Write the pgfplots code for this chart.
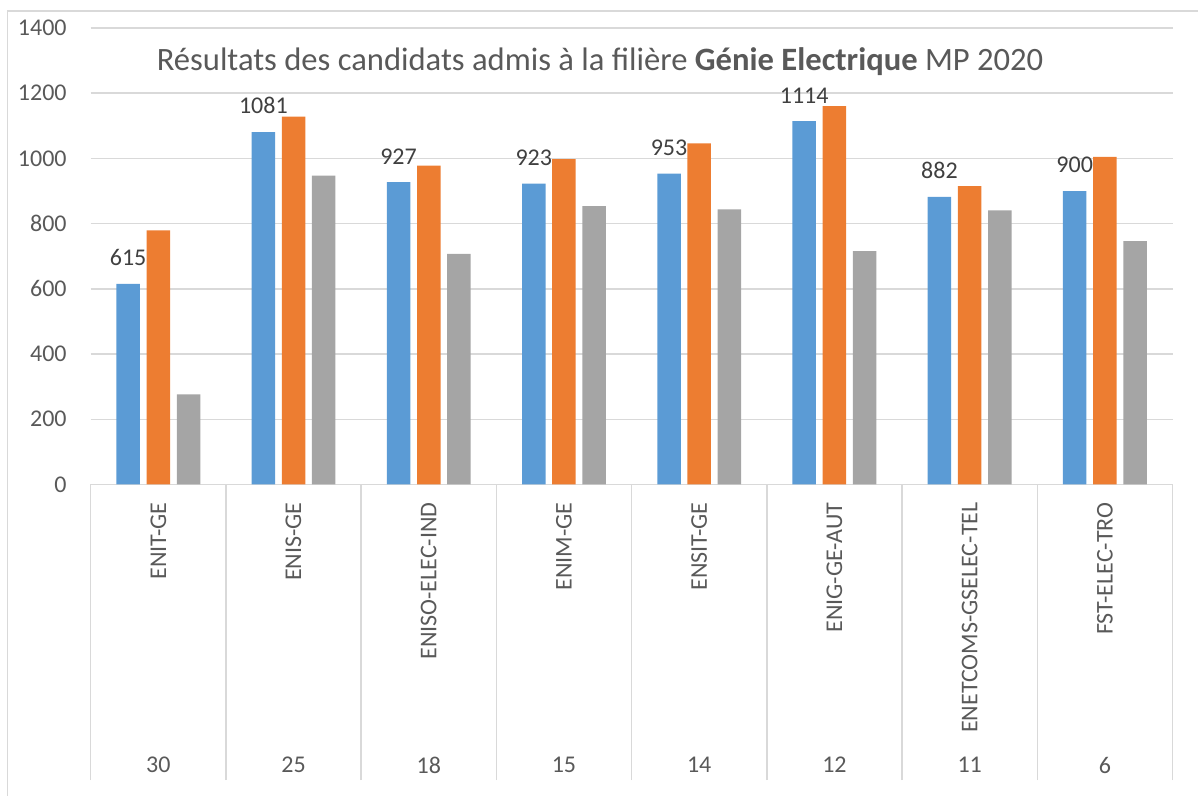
\documentclass[border=0pt]{standalone}
\usepackage{pgfplots}
\pgfplotsset{compat=1.18}
\usepackage{fontspec}
\setmainfont{Carlito}
\definecolor{cblue}{HTML}{5B9BD5}
\definecolor{corange}{HTML}{ED7D31}
\definecolor{cgray}{HTML}{A5A5A5}
\definecolor{txt}{HTML}{595959}
\definecolor{lbl}{HTML}{404040}
\definecolor{gridgray}{HTML}{D9D9D9}
\begin{document}
\begin{tikzpicture}
\useasboundingbox (0,0) rectangle (599pt,398pt);
\draw[gridgray, line width=0.75pt] (3.85pt,0) -- (3.85pt,392.5pt) -- (599pt,392.5pt);
\node[anchor=base, text=txt, font=\fontsize{16.3}{19}\selectfont] at (300pt,362.5pt)
  {Résultats des candidats admis à la filière \textbf{Génie Electrique} MP 2020};
\begin{axis}[
  at={(45.35pt,155.75pt)}, anchor=south west,
  scale only axis, width=540.9pt, height=228.25pt,
  xmin=-0.5, xmax=7.5, ymin=0, ymax=1400,
  ytick={0,200,...,1400},
  ymajorgrids, grid style={gridgray, line width=0.75pt},
  axis line style={draw=none},
  major tick length=0pt,
  xtick pos=left, ytick pos=left,
  /pgf/number format/assume math mode=true,
  /pgf/number format/1000 sep={},
  yticklabel style={text=txt, font=\fontsize{12}{14}\selectfont, inner sep=0pt, anchor=east, xshift=-11.85pt},
  xtick={0,...,7},
  xticklabels={ENIT-GE,ENIS-GE,ENISO-ELEC-IND,ENIM-GE,ENSIT-GE,ENIG-GE-AUT,ENETCOMS-GSELEC-TEL,FST-ELEC-TRO},
  xticklabel style={text=txt, font=\fontsize{12}{14}\selectfont, rotate=90, anchor=east, inner xsep=8.75pt, inner ysep=0pt},
  extra x ticks={-0.5,0.5,...,7.5},
  extra x tick labels={},
  extra x tick style={major tick length=147.75pt, tick align=outside, tick style={draw=gridgray, line width=0.75pt}, grid=none},
  ybar=3.35pt, bar width=11.75pt,
  clip=false,
]
\addplot[fill=cblue, draw=none, nodes near coords, nodes near coords style={text=lbl, font=\fontsize{12}{14}\selectfont, anchor=south, inner sep=0pt, yshift=8.8pt, /pgf/number format/1000 sep={}}] coordinates {(0,615) (1,1081) (2,927) (3,923) (4,953) (5,1114) (6,882) (7,900)};
\addplot[fill=corange, draw=none] coordinates {(0,779) (1,1128) (2,978) (3,998) (4,1046) (5,1160) (6,915) (7,1005)};
\addplot[fill=cgray, draw=none] coordinates {(0,276) (1,947) (2,707) (3,854) (4,844) (5,716) (6,841) (7,746)};
\node[text=txt, font=\fontsize{12}{14}\selectfont, yshift=-140.25pt] at (axis cs:0,0) {30};
\node[text=txt, font=\fontsize{12}{14}\selectfont, yshift=-140.25pt] at (axis cs:1,0) {25};
\node[text=txt, font=\fontsize{12}{14}\selectfont, yshift=-140.25pt] at (axis cs:2,0) {18};
\node[text=txt, font=\fontsize{12}{14}\selectfont, yshift=-140.25pt] at (axis cs:3,0) {15};
\node[text=txt, font=\fontsize{12}{14}\selectfont, yshift=-140.25pt] at (axis cs:4,0) {14};
\node[text=txt, font=\fontsize{12}{14}\selectfont, yshift=-140.25pt] at (axis cs:5,0) {12};
\node[text=txt, font=\fontsize{12}{14}\selectfont, yshift=-140.25pt] at (axis cs:6,0) {11};
\node[text=txt, font=\fontsize{12}{14}\selectfont, yshift=-140.25pt] at (axis cs:7,0) {6};
\end{axis}
\end{tikzpicture}
\end{document}
